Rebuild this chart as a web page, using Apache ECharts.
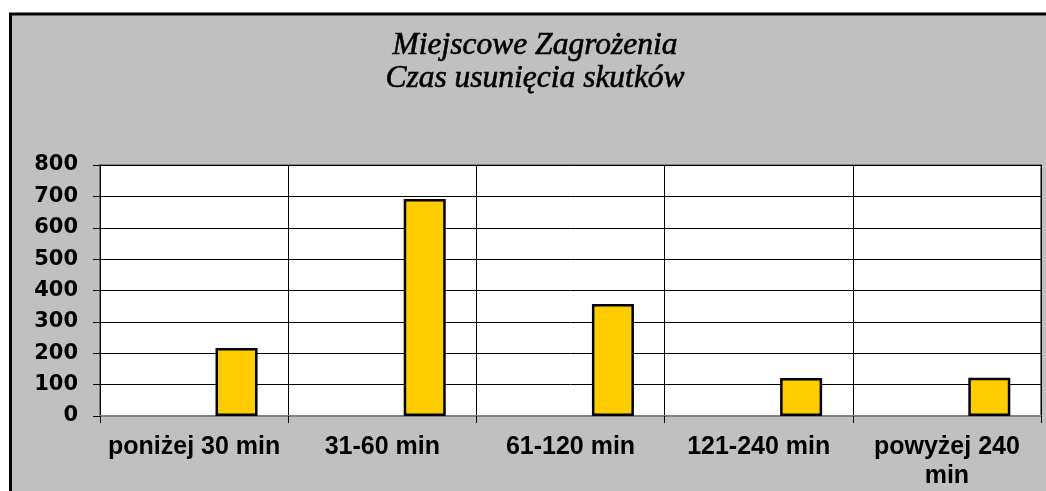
<!DOCTYPE html>
<html>
<head>
<meta charset="utf-8">
<title>Miejscowe Zagrożenia</title>
<script src="https://cdn.jsdelivr.net/npm/echarts@6/dist/echarts.min.js"></script>
<style>
  html, body { margin: 0; padding: 0; background: #ffffff; }
  #myChart1 { width: 1046px; height: 491px; }
</style>
</head>
<body>
<div id="myChart1"></div>
<script>
// dane
var categories = ['poniżej 30 min', '31-60 min', '61-120 min', '121-240 min', 'powyżej 240\nmin']
var pustaSeria = ['-', '-', '-', '-', '-']
var czasUsuniecia = [217, 692, 357, 121, 122]
var yTicks = { min: 0, max: 800, interval: 100 }
var titleLines = ['Miejscowe Zagrożenia', 'Czas usunięcia skutków']

var myChart = echarts.init(document.getElementById('myChart1'))
let option = {
  backgroundColor: '#ffffff',
  animation: false,
  graphic: [
    {
      type: 'rect',
      z: -10,
      shape: { x: 10.5, y: 14, width: 1200, height: 600 },
      style: { fill: '#c0c0c0', stroke: '#000000', lineWidth: 3 }
    },
    {
      type: 'text',
      z: 10,
      x: 535,
      y: 29,
      style: {
        text: titleLines.join('\n'),
        align: 'center',
        verticalAlign: 'top',
        font: 'italic 31.5px "Liberation Serif", "Times New Roman", serif',
        lineHeight: 33,
        fill: '#000000',
        stroke: '#000000',
        lineWidth: 0.6
      }
    }
  ],
  grid: {
    left: 100,
    right: 5,
    top: 165,
    bottom: 75,
    show: true,
    backgroundColor: '#ffffff',
    borderColor: '#808080',
    borderWidth: 2
  },
  xAxis: {
    type: 'category',
    data: categories,
    axisLine: { lineStyle: { color: '#808080', width: 2 } },
    axisTick: { show: true, length: 7, lineStyle: { color: '#000000' } },
    splitLine: { show: true, lineStyle: { color: '#000000', width: 1 } },
    axisLabel: {
      margin: 17,
      color: '#000000',
      fontFamily: '"Liberation Sans", Arial, sans-serif',
      fontWeight: 'bold',
      fontSize: 25,
      lineHeight: 29,
      interval: 0
    }
  },
  yAxis: {
    type: 'value',
    min: yTicks.min,
    max: yTicks.max,
    interval: yTicks.interval,
    axisLine: { show: true, lineStyle: { color: '#000000', width: 1 } },
    axisTick: { show: true, length: 7, lineStyle: { color: '#000000' } },
    splitLine: { show: true, lineStyle: { color: '#000000', width: 1 } },
    axisLabel: {
      margin: 22,
      color: '#000000',
      fontFamily: '"DejaVu Sans", sans-serif',
      fontWeight: 'bold',
      fontSize: 21
    }
  },
  series: [
    {
      type: 'bar',
      data: pustaSeria,
      barWidth: 42,
      barGap: '102%'
    },
    {
      type: 'bar',
      data: czasUsuniecia,
      barWidth: 42,
      barGap: '102%',
      itemStyle: {
        color: '#ffcc00',
        borderColor: '#000000',
        borderWidth: 2.5
      }
    }
  ]
}

myChart.setOption(option, true)
</script>
</body>
</html>
